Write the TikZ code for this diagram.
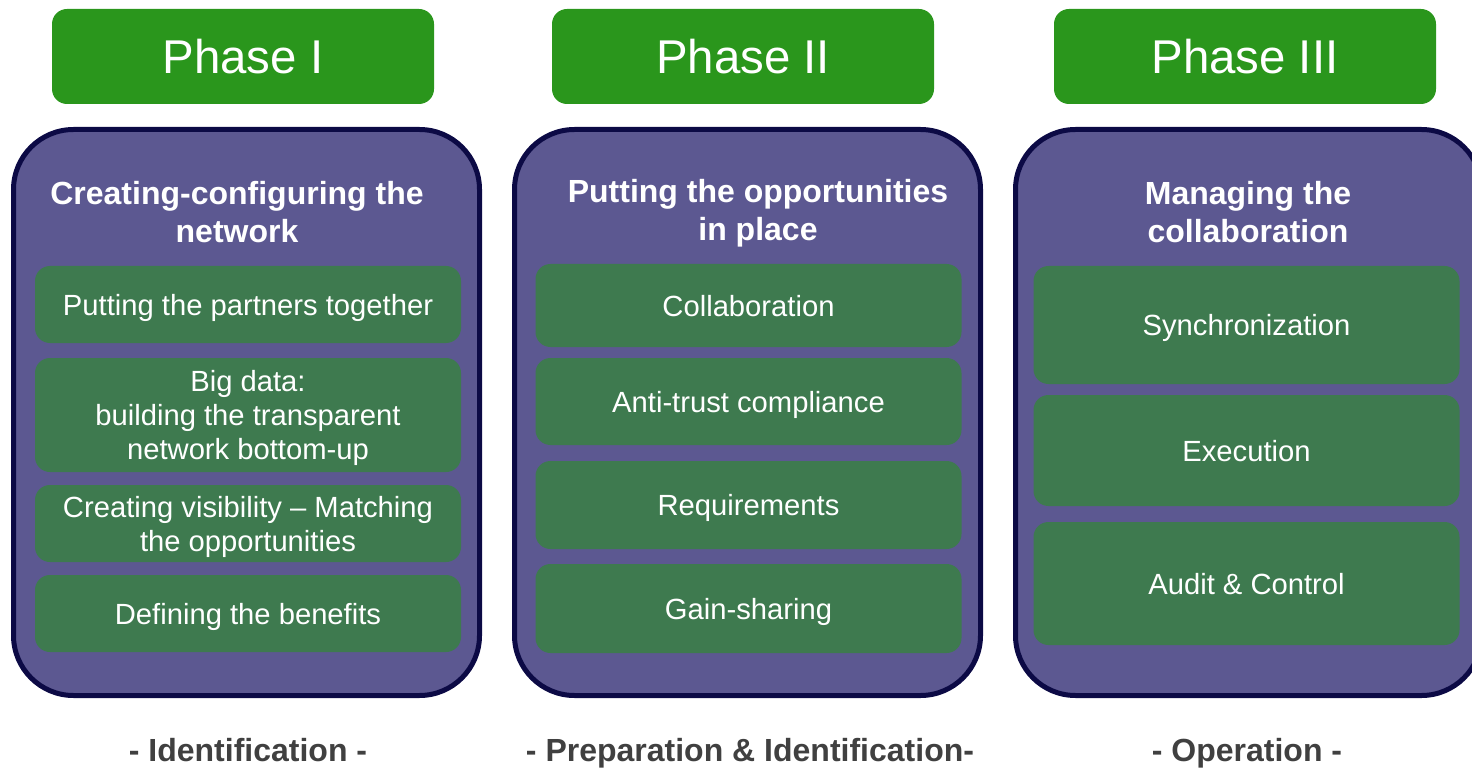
\documentclass[tikz,border=0pt]{standalone}
\usepackage{fontspec}
\setmainfont{Liberation Sans}
\definecolor{phasegreen}{HTML}{2A961C}
\definecolor{stepgreen}{HTML}{3E7A4F}
\definecolor{panelpurple}{HTML}{5C5891}
\definecolor{panelborder}{HTML}{0C0A45}
\definecolor{labelgray}{HTML}{404040}
\begin{document}
\begin{tikzpicture}[x=0.5pt, y=-0.5pt,
phase/.style={rounded corners=7.5pt, fill=phasegreen, text=white, minimum width=191pt, minimum height=47.5pt, text depth=0pt, font=\fontsize{23.7}{27}\selectfont},
panel/.style={rounded corners=30pt, fill=panelpurple, draw=panelborder, line width=2.5pt, minimum width=233pt, minimum height=283pt},
title/.style={text=white, align=center, font=\bfseries\fontsize{16}{19}\selectfont},
task/.style={rounded corners=7.5pt, fill=stepgreen, text=white, minimum width=213pt, align=center, text depth=0pt, font=\fontsize{14.6}{17}\selectfont},
stage/.style={text=labelgray, text depth=0pt, font=\bfseries\fontsize{16}{18}\selectfont},
]
\useasboundingbox (0,0) rectangle (1472,770);
% phase headers
\node [phase] (ph1) at (243,56.5) {Phase I};
\node [phase] (ph2) at (743,56.5) {Phase II};
\node [phase] (ph3) at (1245,56.5) {Phase III};
% panels
\node [panel] (p1) at (246.5,412.5) {};
\node [panel] (p2) at (747.5,412.5) {};
\node [panel] (p3) at (1248.5,412.5) {};
\node [title] (ti1) at (237,212) {Creating-configuring the\\network};
\node [title] (ti2) at (758,213) {Putting the opportunities\\in place};
\node [title] (ti3) at (1248,212) {Managing the\\collaboration};
% phase I tasks
\node [task, minimum height=38.5pt] (t11) at (248,304.5) {Putting the partners together};
\node [task, minimum height=57pt] (t12) at (248,415) {Big data:\\building the transparent\\network bottom-up};
\node [task, minimum height=38.5pt] (t13) at (248,523.5) {Creating visibility -- Matching\\the opportunities};
\node [task, minimum height=38.5pt] (t14) at (248,613.5) {Defining the benefits};
% phase II tasks
\node [task, minimum height=41.5pt] (t21) at (748.5,305.5) {Collaboration};
\node [task, minimum height=43.5pt] (t22) at (748.5,401.5) {Anti-trust compliance};
\node [task, minimum height=44pt] (t23) at (748.5,505) {Requirements};
\node [task, minimum height=44.5pt] (t24) at (748.5,608.5) {Gain-sharing};
% phase III tasks
\node [task, minimum height=59pt] (t31) at (1246.5,325) {Synchronization};
\node [task, minimum height=55.5pt] (t32) at (1246.5,450.5) {Execution};
\node [task, minimum height=61.5pt] (t33) at (1246.5,583.5) {Audit \& Control};
% stages
\node [stage] (s1) at (248,750) {- Identification -};
\node [stage] (s2) at (750,750) {- Preparation \& Identification-};
\node [stage] (s3) at (1247,750) {- Operation -};
\end{tikzpicture}
\end{document}
